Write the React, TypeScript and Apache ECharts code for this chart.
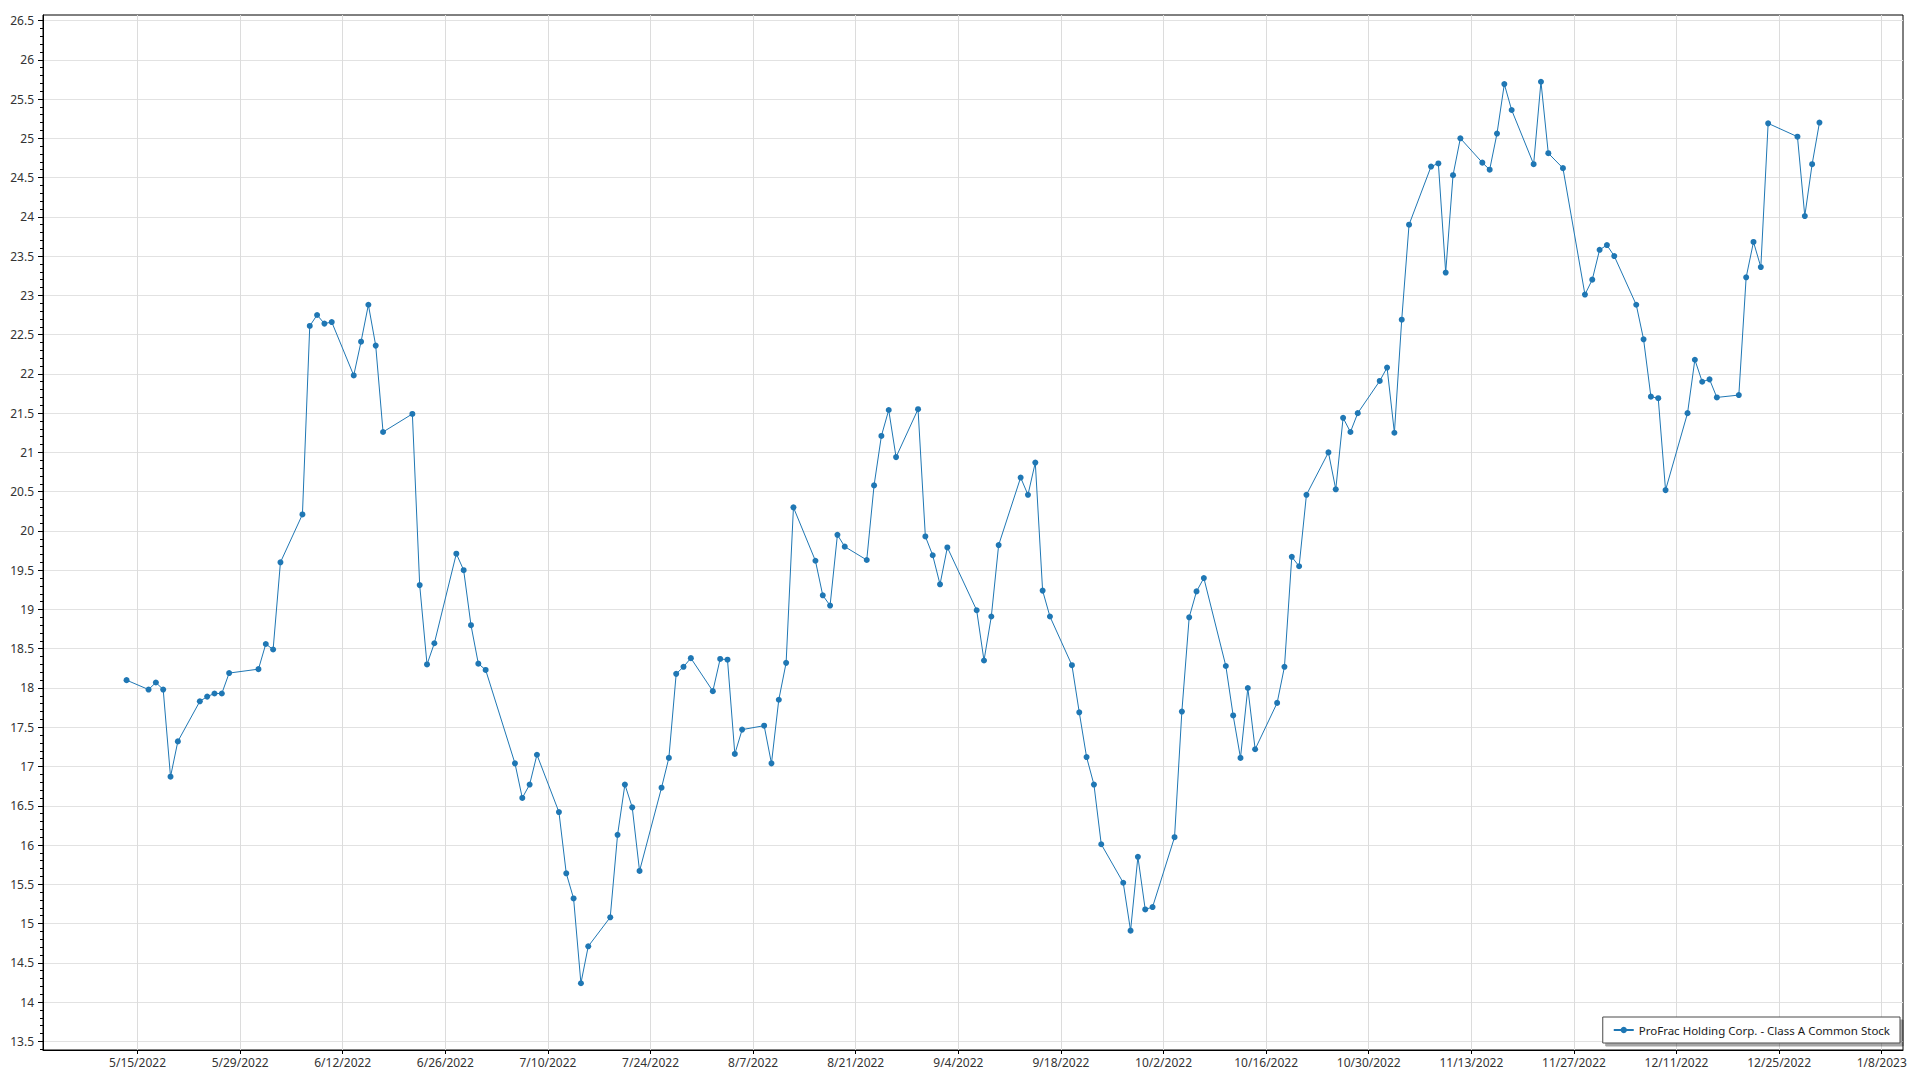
import { useEffect, useRef } from 'react';
import * as echarts from 'echarts';

const SERIES_NAME = 'ProFrac Holding Corp. - Class A Common Stock';

const dates = [
  '2022-05-13', '2022-05-16', '2022-05-17', '2022-05-18', '2022-05-19', '2022-05-20',
  '2022-05-23', '2022-05-24', '2022-05-25', '2022-05-26', '2022-05-27',
  '2022-05-31', '2022-06-01', '2022-06-02', '2022-06-03',
  '2022-06-06', '2022-06-07', '2022-06-08', '2022-06-09', '2022-06-10',
  '2022-06-13', '2022-06-14', '2022-06-15', '2022-06-16', '2022-06-17',
  '2022-06-21', '2022-06-22', '2022-06-23', '2022-06-24',
  '2022-06-27', '2022-06-28', '2022-06-29', '2022-06-30', '2022-07-01',
  '2022-07-05', '2022-07-06', '2022-07-07', '2022-07-08',
  '2022-07-11', '2022-07-12', '2022-07-13', '2022-07-14', '2022-07-15',
  '2022-07-18', '2022-07-19', '2022-07-20', '2022-07-21', '2022-07-22',
  '2022-07-25', '2022-07-26', '2022-07-27', '2022-07-28', '2022-07-29',
  '2022-08-01', '2022-08-02', '2022-08-03', '2022-08-04', '2022-08-05',
  '2022-08-08', '2022-08-09', '2022-08-10', '2022-08-11', '2022-08-12',
  '2022-08-15', '2022-08-16', '2022-08-17', '2022-08-18', '2022-08-19',
  '2022-08-22', '2022-08-23', '2022-08-24', '2022-08-25', '2022-08-26',
  '2022-08-29', '2022-08-30', '2022-08-31', '2022-09-01', '2022-09-02',
  '2022-09-06', '2022-09-07', '2022-09-08', '2022-09-09',
  '2022-09-12', '2022-09-13', '2022-09-14', '2022-09-15', '2022-09-16',
  '2022-09-19', '2022-09-20', '2022-09-21', '2022-09-22', '2022-09-23',
  '2022-09-26', '2022-09-27', '2022-09-28', '2022-09-29', '2022-09-30',
  '2022-10-03', '2022-10-04', '2022-10-05', '2022-10-06', '2022-10-07',
  '2022-10-10', '2022-10-11', '2022-10-12', '2022-10-13', '2022-10-14',
  '2022-10-17', '2022-10-18', '2022-10-19', '2022-10-20', '2022-10-21',
  '2022-10-24', '2022-10-25', '2022-10-26', '2022-10-27', '2022-10-28',
  '2022-10-31', '2022-11-01', '2022-11-02', '2022-11-03', '2022-11-04',
  '2022-11-07', '2022-11-08', '2022-11-09', '2022-11-10', '2022-11-11',
  '2022-11-14', '2022-11-15', '2022-11-16', '2022-11-17', '2022-11-18',
  '2022-11-21', '2022-11-22', '2022-11-23', '2022-11-25',
  '2022-11-28', '2022-11-29', '2022-11-30', '2022-12-01', '2022-12-02',
  '2022-12-05', '2022-12-06', '2022-12-07', '2022-12-08', '2022-12-09',
  '2022-12-12', '2022-12-13', '2022-12-14', '2022-12-15', '2022-12-16',
  '2022-12-19', '2022-12-20', '2022-12-21', '2022-12-22', '2022-12-23',
  '2022-12-27', '2022-12-28', '2022-12-29', '2022-12-30',
];

const prices = [
  18.10, 17.98, 18.07, 17.98, 16.87, 17.32,
  17.83, 17.89, 17.93, 17.93, 18.19,
  18.24, 18.56, 18.49, 19.60,
  20.21, 22.61, 22.75, 22.64, 22.66,
  21.98, 22.41, 22.88, 22.36, 21.26,
  21.49, 19.31, 18.30, 18.57,
  19.71, 19.50, 18.80, 18.31, 18.23,
  17.04, 16.60, 16.77, 17.15,
  16.42, 15.64, 15.32, 14.24, 14.71,
  15.08, 16.13, 16.77, 16.48, 15.67,
  16.73, 17.11, 18.18, 18.27, 18.38,
  17.96, 18.37, 18.36, 17.16, 17.47,
  17.52, 17.04, 17.85, 18.32, 20.30,
  19.62, 19.18, 19.05, 19.95, 19.80,
  19.63, 20.58, 21.21, 21.54, 20.94,
  21.55, 19.93, 19.69, 19.32, 19.79,
  18.99, 18.35, 18.91, 19.82,
  20.68, 20.46, 20.87, 19.24, 18.91,
  18.29, 17.69, 17.12, 16.77, 16.01,
  15.52, 14.91, 15.85, 15.18, 15.21,
  16.10, 17.70, 18.90, 19.23, 19.40,
  18.28, 17.65, 17.11, 18.00, 17.22,
  17.81, 18.27, 19.67, 19.55, 20.46,
  21.00, 20.53, 21.44, 21.26, 21.50,
  21.91, 22.08, 21.25, 22.69, 23.90,
  24.64, 24.68, 23.29, 24.53, 25.00,
  24.69, 24.60, 25.06, 25.69, 25.36,
  24.67, 25.72, 24.81, 24.62,
  23.01, 23.20, 23.58, 23.64, 23.50,
  22.88, 22.44, 21.71, 21.69, 20.52,
  21.50, 22.18, 21.90, 21.93, 21.70,
  21.73, 23.23, 23.68, 23.36, 25.19,
  25.02, 24.01, 24.67, 25.20,
];

const xTickDates = [
  '2022-05-15', '2022-05-29', '2022-06-12', '2022-06-26', '2022-07-10', '2022-07-24',
  '2022-08-07', '2022-08-21', '2022-09-04', '2022-09-18', '2022-10-02', '2022-10-16',
  '2022-10-30', '2022-11-13', '2022-11-27', '2022-12-11', '2022-12-25', '2023-01-08',
];

const yTickValues = [
  13.5, 14, 14.5, 15, 15.5, 16, 16.5, 17, 17.5, 18, 18.5, 19, 19.5, 20,
  20.5, 21, 21.5, 22, 22.5, 23, 23.5, 24, 24.5, 25, 25.5, 26, 26.5,
];

const Y_MIN = 13.39;
const Y_MAX = 26.57;

const DAY = 86400000;
const toTs = (s: string) => {
  const [y, m, d] = s.split('-').map(Number);
  return Date.UTC(y, m - 1, d);
};

const FONT = '"Segoe UI", "Noto Sans", "Open Sans", sans-serif';

export default function App() {
  const ref = useRef<HTMLDivElement>(null);

  useEffect(() => {
    if (!ref.current) return;
    const chart = echarts.init(ref.current, undefined, { renderer: 'svg' });

    // each trading day is placed at midday
    const seriesData = dates.map((d, i) => [toTs(d) + DAY / 2, prices[i]]);
    const firstX = seriesData[0][0] as number;
    const lastX = seriesData[seriesData.length - 1][0] as number;
    const pad = 11.4 * DAY;

    const xTicks = xTickDates.map(toTs);
    const yMinorTicks: number[] = [];
    const allMinor = [13.4];
    yTickValues.forEach((v) => {
      for (let k = 1; k < 5; k++) allMinor.push(Math.round((v + k * 0.1) * 10) / 10);
    });
    allMinor.forEach((v) => {
      if (v > Y_MIN && v < Y_MAX) yMinorTicks.push(v);
    });

    const fmtDate = (v: number) => {
      const dt = new Date(Math.round(v / DAY) * DAY);
      return `${dt.getUTCMonth() + 1}/${dt.getUTCDate()}/${dt.getUTCFullYear()}`;
    };

    chart.setOption({
      animation: false,
      backgroundColor: '#ffffff',
      grid: {
        left: 43,
        right: 17,
        top: 15,
        bottom: 30,
        show: true,
        borderColor: '#000000',
        borderWidth: 1,
        backgroundColor: 'transparent',
        containLabel: false,
      },
      legend: {
        show: true,
        right: 20,
        bottom: 37,
        itemWidth: 20,
        itemHeight: 8,
        padding: [7, 10, 7, 10],
        backgroundColor: '#ffffff',
        borderColor: '#4a4a4a',
        borderWidth: 1,
        borderRadius: 0,
        shadowColor: 'rgba(0,0,0,0.35)',
        shadowOffsetX: 3,
        shadowOffsetY: 3,
        shadowBlur: 1,
        textStyle: { fontSize: 11.5, color: '#1a1a1a', fontFamily: FONT },
        data: [SERIES_NAME],
      },
      xAxis: {
        type: 'value',
        min: firstX - pad,
        max: lastX + pad,
        axisLine: { show: true, lineStyle: { color: '#000000', width: 1 } },
        axisTick: {
          show: true,
          inside: false,
          length: 4,
          customValues: xTicks,
          lineStyle: { color: '#000000' },
        },
        axisLabel: {
          show: true,
          customValues: xTicks,
          margin: 6,
          color: '#333333',
          fontSize: 12,
          fontFamily: FONT,
          formatter: (v: number) => fmtDate(v),
        },
        splitLine: { show: true, lineStyle: { color: '#dcdcdc', width: 1 } },
      },
      yAxis: [
        {
          type: 'value',
          position: 'left',
          min: Y_MIN,
          max: Y_MAX,
          axisLine: { show: true, lineStyle: { color: '#000000', width: 1 } },
          axisTick: {
            show: true,
            inside: false,
            length: 5,
            customValues: yTickValues,
            lineStyle: { color: '#000000' },
          },
          axisLabel: {
            show: true,
            customValues: yTickValues,
            margin: 9,
            color: '#333333',
            fontSize: 12,
            fontFamily: FONT,
            formatter: (v: number) => String(v),
          },
          splitLine: { show: true, lineStyle: { color: '#e2e2e2', width: 1 } },
        },
        {
          type: 'value',
          position: 'left',
          offset: 0,
          min: Y_MIN,
          max: Y_MAX,
          axisLine: { show: false },
          axisTick: {
            show: true,
            inside: false,
            length: 3,
            customValues: yMinorTicks,
            lineStyle: { color: '#000000' },
          },
          axisLabel: { show: false },
          splitLine: { show: false },
        },
      ],
      series: [
        {
          type: 'line',
          name: SERIES_NAME,
          data: seriesData,
          yAxisIndex: 0,
          symbol: 'circle',
          symbolSize: 6,
          showSymbol: true,
          showAllSymbol: true,
          lineStyle: { width: 1, color: '#1f77b4' },
          itemStyle: { color: '#1f77b4' },
          emphasis: { disabled: true },
        },
      ],
    });

    return () => chart.dispose();
  }, []);

  return (
    <div
      ref={ref}
      style={{ position: 'fixed', left: 0, top: 0, width: 1920, height: 1080, background: '#fff' }}
    />
  );
}
